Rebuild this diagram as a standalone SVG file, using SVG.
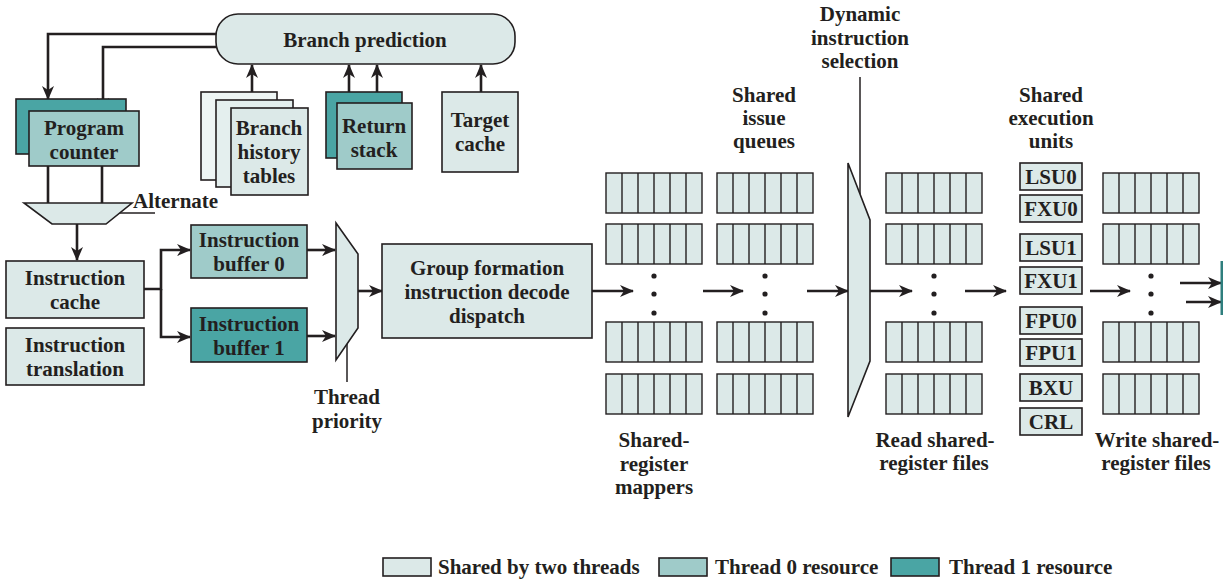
<svg xmlns="http://www.w3.org/2000/svg" xmlns:xlink="http://www.w3.org/1999/xlink" width="1223" height="581" viewBox="0 0 1223 581">
<style>
.box{stroke:#231f20;stroke-width:1.6}
.sh{fill:#dce9e8}
.t0{fill:#9fcbc9}
.t1{fill:#4aa5a4}
.ln{fill:none;stroke:#231f20;stroke-width:2.6}
.thin{fill:none;stroke:#231f20;stroke-width:1.5}
.cell{stroke:#231f20;stroke-width:1.4}
text{font-family:"Liberation Serif","Times New Roman",serif;font-weight:bold;font-size:21px;fill:#231f20;text-anchor:middle}
text.l{text-anchor:start}
</style>
<defs>
<marker id="ah" markerUnits="userSpaceOnUse" viewBox="0 0 14 12" refX="13" refY="6" markerWidth="14" markerHeight="12" orient="auto">
<path d="M0,0 L14,6 L0,12 L4,6 z" fill="#231f20"/>
</marker>
<g id="reg">
<rect x="0" y="0" width="96" height="40" class="sh cell"/>
<path d="M16,0V40M32,0V40M48,0V40M64,0V40M80,0V40" class="cell" fill="none"/>
</g>
<g id="dots">
<circle cx="0" cy="0" r="2.6" fill="#231f20"/>
<circle cx="0" cy="18" r="2.6" fill="#231f20"/>
<circle cx="0" cy="37" r="2.6" fill="#231f20"/>
</g>
</defs>
<rect width="1223" height="581" fill="#ffffff"/>

<g id="connectors">
<path class="ln" d="M216,34 H48 V99" marker-end="url(#ah)"/>
<path class="ln" d="M216,47 H103 V111" marker-end="url(#ah)"/>
<path class="ln" d="M48,166 V203 M102,166 V203"/>
<path class="ln" d="M77,224 V260" marker-end="url(#ah)"/>
<path class="ln" d="M252,92 V65" marker-end="url(#ah)"/>
<path class="ln" d="M349,92 V65" marker-end="url(#ah)"/>
<path class="ln" d="M377,103 V65" marker-end="url(#ah)"/>
<path class="ln" d="M481,92 V65" marker-end="url(#ah)"/>
<path class="ln" d="M144,289 H161 V250 H190" marker-end="url(#ah)"/>
<path class="ln" d="M161,289 V337 H190" marker-end="url(#ah)"/>
<path class="ln" d="M307,250 H335" marker-end="url(#ah)"/>
<path class="ln" d="M307,336 H335" marker-end="url(#ah)"/>
<path class="ln" d="M358,291 H382" marker-end="url(#ah)"/>
<path class="ln" d="M592,291 H633" marker-end="url(#ah)"/>
<path class="ln" d="M703,291 H743" marker-end="url(#ah)"/>
<path class="ln" d="M807,291 H848" marker-end="url(#ah)"/>
<path class="ln" d="M870,291 H912" marker-end="url(#ah)"/>
<path class="ln" d="M965,291 H1006" marker-end="url(#ah)"/>
<path class="ln" d="M1090,291 H1130" marker-end="url(#ah)"/>
<path class="ln" d="M1180,283 H1221" marker-end="url(#ah)"/>
<path class="ln" d="M1186,302 H1221" marker-end="url(#ah)"/>
<path class="thin" d="M119,213 H155"/>
<path class="thin" d="M347,344 V382"/>
<path class="thin" d="M860,77 V194"/>
</g>

<g id="branch-prediction">
<rect x="216" y="14" width="299" height="50" rx="22" class="box sh"/>
<text x="365" y="47">Branch prediction</text>
</g>

<g id="program-counter">
<rect x="16" y="99" width="110" height="55" class="box t1"/>
<rect x="29" y="111" width="110" height="55" class="box t0"/>
<text x="84" y="135">Program</text>
<text x="84" y="159">counter</text>
</g>

<g id="branch-history-tables">
<rect x="201" y="92" width="76" height="88" class="box" fill="#eef5f4"/>
<rect x="216" y="100" width="77" height="87" class="box" fill="#e4efee"/>
<rect x="231" y="108" width="77" height="87" class="box sh"/>
<text x="269" y="135">Branch</text>
<text x="269" y="159">history</text>
<text x="269" y="183">tables</text>
</g>

<g id="return-stack">
<rect x="326" y="92" width="76" height="66" class="box t1"/>
<rect x="337" y="103" width="75" height="66" class="box t0"/>
<text x="374" y="133">Return</text>
<text x="374" y="157">stack</text>
</g>

<g id="target-cache">
<rect x="442" y="92" width="76" height="80" class="box sh"/>
<text x="480" y="127">Target</text>
<text x="480" y="151">cache</text>
</g>

<g id="alternate-mux">
<polygon points="24,203 132,203 106,224 52,224" class="box sh"/>
<text class="l" x="133" y="208">Alternate</text>
</g>

<g id="instruction-cache">
<rect x="6" y="261" width="138" height="57" class="box sh"/>
<text x="75" y="285">Instruction</text>
<text x="75" y="309">cache</text>
</g>

<g id="instruction-translation">
<rect x="6" y="328" width="138" height="57" class="box sh"/>
<text x="75" y="352">Instruction</text>
<text x="75" y="376">translation</text>
</g>

<g id="instruction-buffer-0">
<rect x="191" y="225" width="116" height="53" class="box t0"/>
<text x="249" y="247">Instruction</text>
<text x="249" y="271">buffer 0</text>
</g>

<g id="instruction-buffer-1">
<rect x="191" y="308" width="116" height="54" class="box t1"/>
<text x="249" y="331">Instruction</text>
<text x="249" y="355">buffer 1</text>
</g>

<g id="thread-priority-mux">
<polygon points="336,223 358,254 358,328 336,360" class="box sh"/>
<text x="347" y="404">Thread</text>
<text x="347" y="428">priority</text>
</g>

<g id="group-formation">
<rect x="382" y="244" width="210" height="94" class="box sh"/>
<text x="487" y="275">Group formation</text>
<text x="487" y="299">instruction decode</text>
<text x="487" y="323">dispatch</text>
</g>

<g id="shared-register-mappers">
<use xlink:href="#reg" x="606" y="173"/>
<use xlink:href="#reg" x="606" y="224"/>
<use xlink:href="#dots" x="654" y="276"/>
<use xlink:href="#reg" x="606" y="322"/>
<use xlink:href="#reg" x="606" y="374"/>
<text x="654" y="447">Shared-</text>
<text x="654" y="471">register</text>
<text x="654" y="494">mappers</text>
</g>

<g id="shared-issue-queues">
<use xlink:href="#reg" x="717" y="173"/>
<use xlink:href="#reg" x="717" y="224"/>
<use xlink:href="#dots" x="765" y="276"/>
<use xlink:href="#reg" x="717" y="322"/>
<use xlink:href="#reg" x="717" y="374"/>
<text x="764" y="102">Shared</text>
<text x="764" y="125">issue</text>
<text x="764" y="148">queues</text>
</g>

<g id="dynamic-instruction-selection">
<polygon points="848,163 870,220 870,361 848,417" class="box sh"/>
<text x="860" y="21">Dynamic</text>
<text x="860" y="45">instruction</text>
<text x="860" y="68">selection</text>
</g>

<g id="read-shared-register-files">
<use xlink:href="#reg" x="886" y="173"/>
<use xlink:href="#reg" x="886" y="224"/>
<use xlink:href="#dots" x="934" y="276"/>
<use xlink:href="#reg" x="886" y="322"/>
<use xlink:href="#reg" x="886" y="374"/>
<text x="935" y="447">Read shared-</text>
<text x="934" y="470">register files</text>
</g>

<g id="shared-execution-units">
<text x="1051" y="102">Shared</text>
<text x="1051" y="125">execution</text>
<text x="1051" y="148">units</text>
<rect x="1020" y="163" width="62" height="27" class="box sh"/><text x="1051" y="184">LSU0</text>
<rect x="1020" y="195" width="62" height="27" class="box sh"/><text x="1051" y="216">FXU0</text>
<rect x="1020" y="234" width="62" height="27" class="box sh"/><text x="1051" y="255">LSU1</text>
<rect x="1020" y="267" width="62" height="27" class="box sh"/><text x="1051" y="288">FXU1</text>
<rect x="1020" y="307" width="62" height="27" class="box sh"/><text x="1051" y="328">FPU0</text>
<rect x="1020" y="339" width="62" height="27" class="box sh"/><text x="1051" y="360">FPU1</text>
<rect x="1020" y="374" width="62" height="27" class="box sh"/><text x="1051" y="395">BXU</text>
<rect x="1020" y="408" width="62" height="27" class="box sh"/><text x="1051" y="429">CRL</text>
</g>

<g id="write-shared-register-files">
<use xlink:href="#reg" x="1103" y="173"/>
<use xlink:href="#reg" x="1103" y="224"/>
<use xlink:href="#dots" x="1151" y="276"/>
<use xlink:href="#reg" x="1103" y="322"/>
<use xlink:href="#reg" x="1103" y="374"/>
<text x="1157" y="447">Write shared-</text>
<text x="1156" y="470">register files</text>
</g>

<g id="right-edge-bar">
<rect x="1220.5" y="261" width="2.5" height="54" fill="#2f7f7e"/>
</g>

<g id="legend">
<rect x="383" y="558" width="48" height="18" class="box sh"/>
<text class="l" x="438" y="574">Shared by two threads</text>
<rect x="659" y="558" width="48" height="18" class="box t0"/>
<text class="l" x="715" y="574">Thread 0 resource</text>
<rect x="891" y="558" width="48" height="18" class="box t1"/>
<text class="l" x="949" y="574">Thread 1 resource</text>
</g>
</svg>
